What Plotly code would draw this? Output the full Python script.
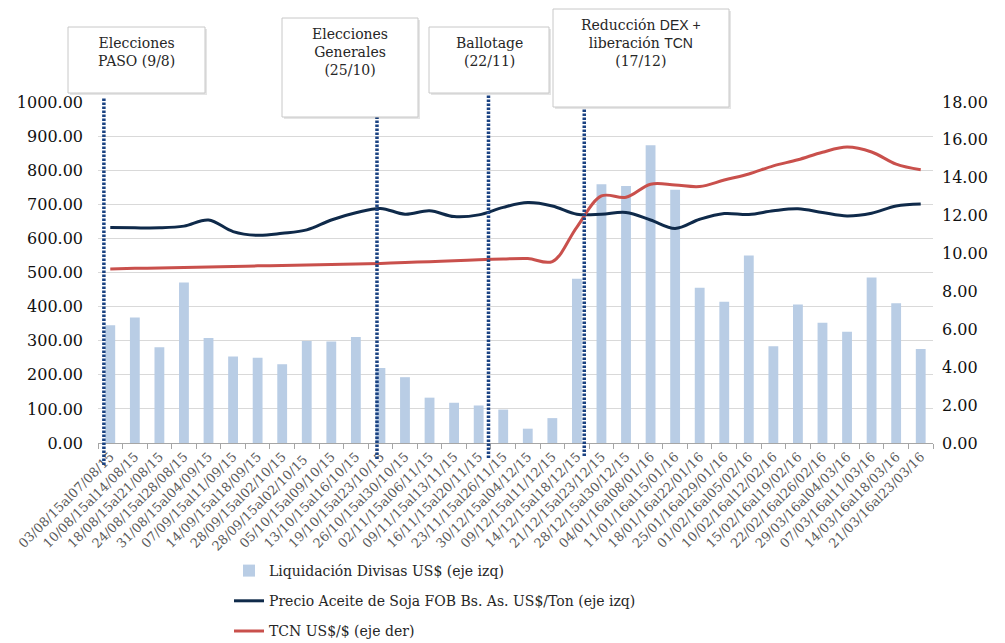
import plotly.graph_objects as go

# Semanas (eje de categorías)
semanas = [
    "03/08/15al07/08/15", "10/08/15al14/08/15", "18/08/15al21/08/15", "24/08/15al28/08/15",
    "31/08/15al04/09/15", "07/09/15al11/09/15", "14/09/15al18/09/15", "28/09/15al02/10/15",
    "28/09/15al02/10/15 ", "05/10/15al09/10/15", "13/10/15al16/10/15", "19/10/15al23/10/15",
    "26/10/15al30/10/15", "02/11/15al06/11/15", "09/11/15al13/11/15", "16/11/15al20/11/15",
    "23/11/15al26/11/15", "30/12/15al04/12/15", "09/12/15al11/12/15", "14/12/15al18/12/15",
    "21/12/15al23/12/15", "28/12/15al30/12/15", "04/01/16al08/01/16", "11/01/16al15/01/16",
    "18/01/16al22/01/16", "25/01/16al29/01/16", "01/02/16al05/02/16", "10/02/16al12/02/16",
    "15/02/16al19/02/16", "22/02/16al26/02/16", "29/03/16al04/03/16", "07/03/16al11/03/16",
    "14/03/16al18/03/16", "21/03/16al23/03/16",
]

# Liquidación de divisas, millones de US$ (eje izquierdo)
liquidacion = [345, 368, 281, 471, 308, 254, 250, 231, 299, 298, 311, 220, 193, 133, 118, 110, 98,
               42, 73, 482, 759, 754, 873, 743, 455, 414, 550, 284, 406, 353, 326, 485, 410, 276]

# Precio aceite de soja FOB Bs. As., US$/Ton (eje izquierdo)
aceite = [632, 631, 631, 636, 654, 620, 609, 615, 625, 654, 675, 688, 671, 681, 664, 669, 691,
          705, 695, 671, 671, 676, 654, 629, 656, 673, 670, 681, 687, 676, 666, 674, 695, 701]

# Tipo de cambio nominal (eje derecho)
tcn = [9.19, 9.22, 9.24, 9.27, 9.29, 9.32, 9.35, 9.37, 9.40, 9.42, 9.45, 9.48, 9.53, 9.57, 9.62,
       9.67, 9.71, 9.74, 9.58, 11.40, 13.04, 12.97, 13.66, 13.62, 13.54, 13.88, 14.20, 14.63,
       14.95, 15.35, 15.62, 15.36, 14.72, 14.42]

# Eventos: posición sobre el eje de categorías y texto del recuadro
eventos_pos = [-0.26, 10.86, 15.4, 19.3]
eventos_txt = [
    "Elecciones<br>PASO (9/8)",
    "Elecciones<br>Generales<br>(25/10)",
    "Ballotage<br>(22/11)",
    "Reducción <span style='font-family:Liberation Sans'>DEX +</span><br>liberación "
    "<span style='font-family:Liberation Sans'>TCN</span><br>(17/12)",
]

FONT = "DejaVu Serif"
W, H = 1005, 643
L, R, T, B = 98, 72, 102, 200
PW, PH = W - L - R, H - T - B


def px_x(x):
    return (x - L) / PW


def px_y(y):
    return (H - B - y) / PH


# Recuadros de eventos (píxeles: x0, x1, y0, y1) y extremos de las líneas punteadas
cajas = [(68, 205, 27, 93), (282, 418, 18, 117), (429, 549, 27, 93), (553, 729, 9, 107)]
linea_ext = [(97, 465), (117, 459), (95, 458), (108, 456)]

fig = go.Figure()

fig.add_trace(go.Bar(
    x=semanas, y=liquidacion, name="Liquidación Divisas US$ (eje izq)",
    marker=dict(color="#b9cde5", line=dict(width=0)), width=0.4,
    legendgroup="a",
))
fig.add_trace(go.Scatter(
    x=semanas, y=aceite, name="Precio Aceite de Soja FOB Bs. As. US$/Ton (eje izq)",
    mode="lines", line=dict(color="#0f2a4a", width=3, shape="spline", smoothing=1),
    legendgroup="b",
))
fig.add_trace(go.Scatter(
    x=semanas, y=tcn, name="TCN US$/$ (eje der)", yaxis="y2",
    mode="lines", line=dict(color="#c9504c", width=3, shape="spline", smoothing=1),
    legendgroup="c",
))

shapes = []
annotations = []
for pos, (ya, yb) in zip(eventos_pos, linea_ext):
    shapes.append(dict(
        type="line", xref="x", yref="paper", x0=pos, x1=pos, y0=px_y(yb), y1=px_y(ya),
        line=dict(color="#1a4282", width=3.5, dash="2.5px,1.5px"), layer="above",
    ))
for (x0, x1, y0, y1), txt in zip(cajas, eventos_txt):
    shapes.append(dict(
        type="rect", xref="paper", yref="paper",
        x0=px_x(x0 + 2), x1=px_x(x1 + 2), y0=px_y(y1 + 2), y1=px_y(y0 + 2),
        line=dict(width=0), fillcolor="rgba(0,0,0,0.10)", layer="above",
    ))
    shapes.append(dict(
        type="rect", xref="paper", yref="paper",
        x0=px_x(x0), x1=px_x(x1), y0=px_y(y1), y1=px_y(y0),
        line=dict(color="#c8c8c8", width=1), fillcolor="white", layer="above",
    ))
    annotations.append(dict(
        xref="paper", yref="paper", x=px_x((x0 + x1) / 2), y=px_y(y0 + 6),
        xanchor="center", yanchor="top", text=txt, showarrow=False, align="center",
        font=dict(family=FONT, size=14, color="#262626"),
    ))

fig.update_layout(
    width=W, height=H,
    margin=dict(l=L, r=R, t=T, b=B, autoexpand=False),
    paper_bgcolor="white", plot_bgcolor="white",
    font=dict(family=FONT, color="#111111"),
    bargap=0.6,
    showlegend=True,
    legend=dict(
        x=px_x(229), y=px_y(555), xanchor="left", yanchor="top",
        orientation="v", tracegroupgap=9,
        font=dict(family=FONT, size=14, color="#262626"),
        bgcolor="rgba(0,0,0,0)",
    ),
    xaxis=dict(
        type="category", tickangle=-45, tickson="boundaries", automargin=False,
        ticks="outside", ticklen=5, tickcolor="#a6a6a6",
        showline=True, linecolor="#a6a6a6", linewidth=1,
        showgrid=False, range=[-0.5, len(semanas) - 0.5],
        tickfont=dict(family=FONT, size=13, color="#595959"),
    ),
    yaxis=dict(
        range=[0, 1000], dtick=100, tickformat=".2f", automargin=False,
        showgrid=True, gridcolor="#d9d9d9", gridwidth=1,
        zeroline=False, showline=False, ticks="",
        ticklabelstandoff=14,
        tickfont=dict(family=FONT, size=16, color="#111111"),
    ),
    yaxis2=dict(
        range=[0, 18], dtick=2, tickformat=".2f", overlaying="y", side="right",
        showgrid=False, zeroline=False, showline=False, ticks="", automargin=False,
        ticklabelstandoff=8,
        tickfont=dict(family=FONT, size=16, color="#111111"),
    ),
    shapes=shapes,
    annotations=annotations,
)

fig.write_html("out.html")
